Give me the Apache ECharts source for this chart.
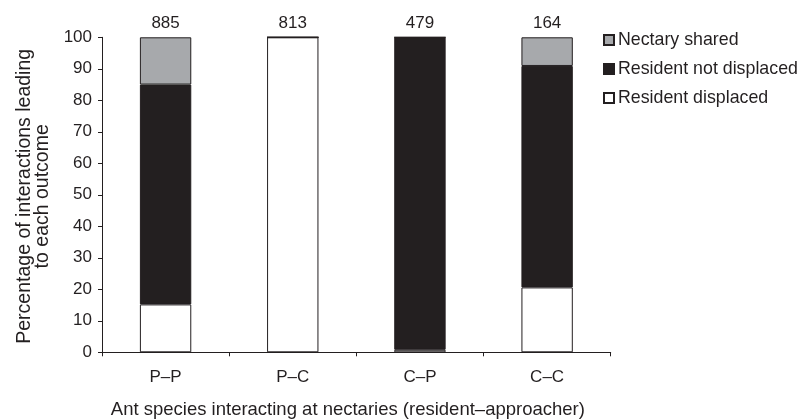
<!DOCTYPE html>
<html><head><meta charset="utf-8">
<script src="https://cdn.jsdelivr.net/npm/echarts@6/dist/echarts.min.js"></script>
<style>html,body{margin:0;padding:0;background:#fff}#c{width:804px;height:419px}</style>
</head><body><div id="c"></div>
<script>
var categories = ['P\u2013P', 'P\u2013C', 'C\u2013P', 'C\u2013C'];
var totals = [885, 813, 479, 164];
var residentDisplaced = [15.2, 100, 0.8, 20.6];
var residentNotDisplaced = [69.8, 0, 99.2, 70.3];
var nectaryShared = [15.0, 0, 0, 9.1];
var yTicks = [0, 10, 20, 30, 40, 50, 60, 70, 80, 90, 100];

var font = 'Liberation Sans, Arial, sans-serif';
var txt = '#231f20';
var chart = echarts.init(document.getElementById('c'), null, {renderer: 'canvas'});
var border = {borderColor: '#231f20', borderWidth: 1};
chart.setOption({
  animation: false,
  textStyle: {fontFamily: font, color: txt},
  legend: {
    orient: 'vertical', left: 598, top: 25.5, itemGap: 10,
    icon: 'rect', itemWidth: 10, itemHeight: 10,
    textStyle: {fontFamily: font, fontSize: 17.8, color: txt, lineHeight: 19, padding: [0, 0, 0, -1]},
    data: ['Nectary shared', 'Resident not displaced', 'Resident displaced']
  },
  grid: {left: 102, right: 193.3, top: 37.3, bottom: 66.7, outerBoundsMode: 'none', containLabel: false},
  xAxis: {
    type: 'category', data: categories,
    name: 'Ant species interacting at nectaries (resident\u2013approacher)',
    nameLocation: 'middle', nameGap: 48,
    nameTextStyle: {fontSize: 18.5, color: txt, fontFamily: font, padding: [0, 17, 0, 0]},
    axisLine: {lineStyle: {color: '#231f20', width: 1}},
    axisTick: {show: true, length: 4, inside: false, lineStyle: {color: '#231f20'}},
    axisLabel: {fontSize: 17, color: txt, margin: 17, fontFamily: font}
  },
  yAxis: {
    type: 'value', min: 0, max: 100, interval: 10,
    name: 'Percentage of interactions leading\nto each outcome',
    nameLocation: 'middle', nameGap: 49, nameRotate: 90,
    nameTextStyle: {fontSize: 19.5, color: txt, fontFamily: font, lineHeight: 18, padding: [0, 3, 0, 0]},
    axisLine: {show: true, lineStyle: {color: '#231f20', width: 1}},
    axisTick: {show: true, length: 4, lineStyle: {color: '#231f20'}},
    splitLine: {show: false},
    axisLabel: {fontSize: 17, color: txt, margin: 10, fontFamily: font,
      formatter: function (v) { return yTicks.indexOf(v) >= 0 ? String(v) : ''; }}
  },
  series: [
    {name: 'Resident displaced', type: 'bar', stack: 's', barWidth: '40.4%',
     itemStyle: Object.assign({color: '#ffffff'}, border), data: residentDisplaced},
    {name: 'Resident not displaced', type: 'bar', stack: 's',
     itemStyle: Object.assign({color: '#231f20'}, border), data: residentNotDisplaced},
    {name: 'Nectary shared', type: 'bar', stack: 's',
     itemStyle: Object.assign({color: '#a7a9ac'}, border), data: nectaryShared,
     label: {show: true, position: 'top', distance: 5, fontSize: 17, color: txt, fontFamily: font,
       formatter: function (p) { return String(totals[p.dataIndex]); }}}
  ]
});
</script></body></html>
